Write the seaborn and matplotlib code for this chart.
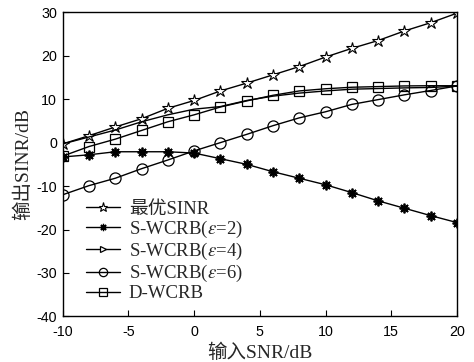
import numpy as np
import pandas as pd
import matplotlib
matplotlib.use("Agg")
import matplotlib.pyplot as plt
import seaborn as sns

snr = [-10, -8, -6, -4, -2, 0, 2, 4, 6, 8, 10, 12, 14, 16, 18, 20]
optimal = [-0.3, 1.6, 3.6, 5.5, 7.9, 9.7, 11.9, 13.7, 15.6, 17.5, 19.7, 21.7, 23.5, 25.7, 27.6, 29.8]
eps2 = [-3.3, -2.8, -2.1, -2.1, -2.1, -2.4, -3.7, -5.0, -6.7, -8.2, -9.7, -11.5, -13.4, -15.1, -16.8, -18.4]
eps4 = [-0.3, 1.3, 2.9, 4.8, 6.4, 7.7, 8.3, 9.7, 10.7, 11.4, 11.9, 12.3, 12.45, 12.6, 12.7, 13.0]
eps6 = [-12.0, -9.9, -8.2, -6.0, -4.0, -1.9, 0.0, 1.9, 3.9, 5.7, 7.1, 8.8, 9.9, 11.0, 12.0, 13.05]
dwcrb = [-3.1, -0.9, 0.8, 2.8, 4.8, 6.4, 8.2, 9.6, 10.9, 11.9, 12.4, 12.75, 12.9, 13.05, 13.1, 13.1]

labels = ["最优SINR", "S-WCRB($\\varepsilon$=2)", "S-WCRB($\\varepsilon$=4)",
          "S-WCRB($\\varepsilon$=6)", "D-WCRB"]
xticks = [-10, -5, 0, 5, 10, 15, 20]
yticks = [-40, -30, -20, -10, 0, 10, 20, 30]

sns.set_style("white")
plt.rcParams['font.family'] = ['Liberation Serif', 'Noto Sans CJK SC', 'DejaVu Sans']
plt.rcParams['mathtext.fontset'] = 'stix'

fig = plt.figure(figsize=(4.74, 3.62), dpi=100)
ax = fig.add_axes([0.1323, 0.1260, 0.964 - 0.1323, 0.966 - 0.1260])

series = [optimal, eps2, eps4, eps6, dwcrb]
styles = [
    dict(marker='*', markersize=9, markerfacecolor='white', markeredgecolor='black', markeredgewidth=0.8),
    dict(marker=(8, 2, 0), markersize=7, markeredgecolor='black', markeredgewidth=1.3),
    dict(marker='>', markersize=0, markerfacecolor='white', markeredgecolor='black', markeredgewidth=0.9),
    dict(marker='o', markersize=8, markerfacecolor='none', markeredgecolor='black', markeredgewidth=0.9),
    dict(marker='s', markersize=7, markerfacecolor='none', markeredgecolor='black', markeredgewidth=0.9),
]
for vals, lab, st in zip(series, labels, styles):
    df = pd.DataFrame({"snr": snr, "sinr": vals})
    sns.lineplot(data=df, x="snr", y="sinr", ax=ax, color='black', linewidth=1.0,
                 label=lab, **st)

ax.set_xlim(-10, 20)
ax.set_ylim(-40, 30)
ax.set_xticks(xticks)
ax.set_yticks(yticks)
ax.set_xticklabels([str(t) for t in xticks], family='Liberation Sans', fontsize=10.3)
ax.set_yticklabels([str(t) for t in yticks], family='Liberation Sans', fontsize=10.3)
ax.tick_params(direction='in', length=4, width=0.8, colors='black',
               bottom=True, left=True, top=False, right=False)
ax.tick_params(axis='x', pad=6)
ax.tick_params(axis='y', pad=4)
for sp in ax.spines.values():
    sp.set_color('black')
    sp.set_linewidth(1.0)

ax.set_xlabel("输入SNR/dB", fontsize=14, labelpad=3.5)
ax.set_ylabel("输出SINR/dB", fontsize=14, labelpad=3)

leg = ax.legend(loc='upper left', bbox_to_anchor=(0.058, 0.38), frameon=False,
                fontsize=13.5, handlelength=1.85, handletextpad=0.45,
                labelspacing=0.05, borderpad=0, borderaxespad=0, markerscale=0.75)
leg.legend_handles[1].set_markeredgewidth(0.9)
leg.legend_handles[2].set_markersize(5)

fig.savefig("out.png", dpi=100)
